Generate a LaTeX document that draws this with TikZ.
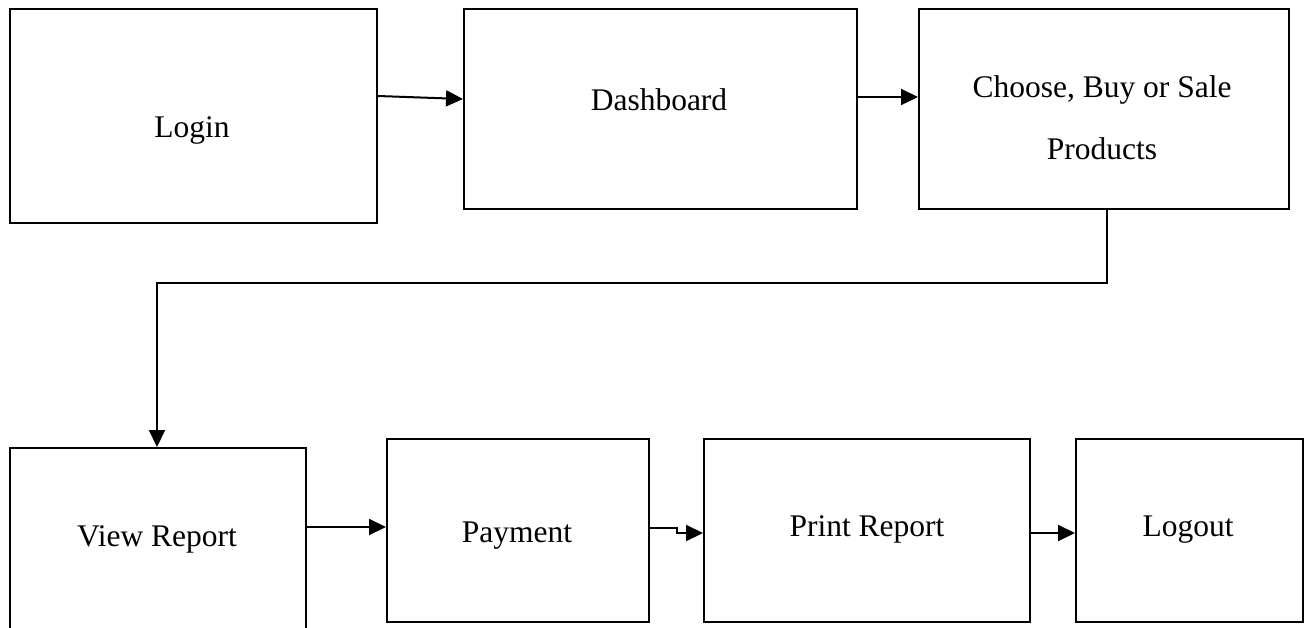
\documentclass[tikz,border=0pt]{standalone}
\usepackage{fontspec}
\setmainfont{Liberation Serif}
\usetikzlibrary{arrows.meta,calc}
\begin{document}
\begin{tikzpicture}[x=1pt,y=-1pt,
  box/.style 2 args={draw, line width=2pt, inner sep=0pt, anchor=north west,
    minimum width=#1, minimum height=#2},
  lbl/.style={font=\fontsize{31.5}{62}\selectfont, align=center, inner sep=0pt},
  flow/.style={line width=2pt, -{Triangle[length=17pt,width=16pt]}}]
\useasboundingbox (0,0) rectangle (1309,627);
\clip (0,0) rectangle (1309,627);

% top row
\node[box={367}{214}] (login)  at (9,8)   {};
\node[box={393}{200}] (dash)   at (463,8) {};
\node[box={370}{200}] (choose) at (918,8) {};

% bottom row
\node[box={296}{230}] (view)   at (9,447)    {};
\node[box={262}{183}] (pay)    at (386,438)  {};
\node[box={326}{183}] (print)  at (703,438)  {};
\node[box={227}{183}] (logout) at (1075,438) {};

% labels
\node[lbl] (tlogin)  at (192,130)  {Login};
\node[lbl] (tdash)   at (659,100)  {Dashboard};
\node[lbl] (tchoose) at (1102,118) {Choose, Buy or Sale\\Products};
\node[lbl] (tview)   at (157,539)  {View Report};
\node[lbl] (tpay)    at (517,536)  {Payment};
\node[lbl] (tprint)  at (867,529)  {Print Report};
\node[lbl] (tlogout) at (1188,530) {Logout};

% connectors
\draw[flow] ($(login.north east)+(0,88)$) -- ($(dash.north west)+(0,91)$);
\draw[flow] ($(dash.north east)+(0,89)$) -- ($(choose.north west)+(0,89)$);
\draw[flow] ($(choose.south west)+(189,0)$) -- ++(0,73) -| (view.north -| tview);
\draw[flow] ($(view.north east)+(0,80)$) -- ($(pay.north west)+(0,89)$);
\draw[flow] ($(pay.north east)+(0,90)$) -- ++(27,0) -- ++(0,5) -- ($(print.north west)+(0,95)$);
\draw[flow] ($(print.north east)+(0,95)$) -- ($(logout.north west)+(0,95)$);
\end{tikzpicture}
\end{document}
